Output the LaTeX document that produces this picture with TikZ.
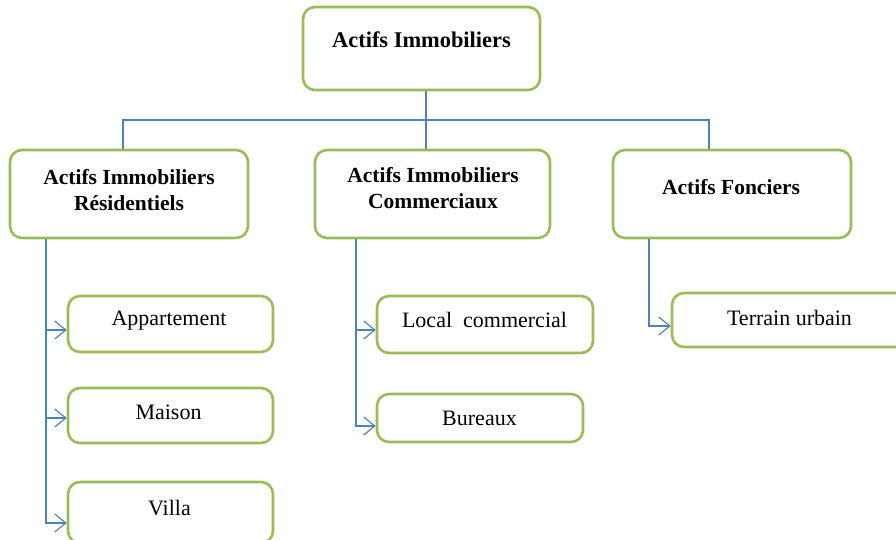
\documentclass[tikz,border=0pt]{standalone}
\usepackage{fontspec}
\setmainfont{Liberation Serif}
\usetikzlibrary{arrows.meta}
\definecolor{boxgreen}{HTML}{9BBB59}
\definecolor{linkblue}{HTML}{4F81BD}
\tikzset{
  gbox/.style={draw=boxgreen, line width=2.6pt, rounded corners=12pt, fill=white, inner sep=0pt},
  hdr/.style={font=\bfseries\fontsize{21.5}{26}\selectfont, align=center, inner sep=0pt},
  leaf/.style={font=\fontsize{22}{26}\selectfont, inner sep=0pt},
  conn/.style={draw=linkblue, line width=1.2pt},
  arr/.style={conn, -{Straight Barb[length=11pt,width=18pt,line width=1.2pt]}}
}
\begin{document}
\begin{tikzpicture}[x=1pt,y=-1pt]
\useasboundingbox (0,0) rectangle (896,539);
% boxes (centres from the reference)
\node[gbox, minimum width=237pt, minimum height=83pt] (top) at (421.5,48.5) {};
\node[gbox, minimum width=238pt, minimum height=88pt] (res) at (129,194) {};
\node[gbox, minimum width=235pt, minimum height=88pt] (comm) at (432.5,194) {};
\node[gbox, minimum width=238pt, minimum height=88pt] (fonc) at (732,194) {};
\node[gbox, minimum width=205pt, minimum height=56pt] (app) at (170.5,324) {};
\node[gbox, minimum width=205pt, minimum height=55pt] (mai) at (170.5,415.5) {};
\node[gbox, minimum width=205pt, minimum height=61pt] (vil) at (170.5,512.5) {};
\node[gbox, minimum width=216pt, minimum height=57pt] (loc) at (485,324.5) {};
\node[gbox, minimum width=206pt, minimum height=48pt] (bur) at (480,418) {};
\node[gbox, minimum width=240pt, minimum height=54pt] (ter) at (792,320) {};
% texts
\node[hdr, font=\bfseries\fontsize{22.4}{26}\selectfont] (toptxt) at (421.5,40) {Actifs Immobiliers};
\node[hdr] (restxt) at (129,190) {Actifs Immobiliers\\Résidentiels};
\node[hdr] (commtxt) at (433,188.5) {Actifs Immobiliers\\Commerciaux};
\node[hdr] (fonctxt) at (731,187) {Actifs Fonciers};
\node[leaf] (apptxt) at (169,321) {Appartement};
\node[leaf] (maitxt) at (168.5,412) {Maison};
\node[leaf] (viltxt) at (169.5,508) {Villa};
\node[leaf] (loctxt) at (484.5,320) {Local\ \ commercial};
\node[leaf] (burtxt) at (479.5,418) {Bureaux};
\node[leaf] (tertxt) at (789.5,318) {Terrain urbain};
% top-level connectors
\coordinate (busL) at (123,120);
\coordinate (busR) at (709,120);
\draw[conn] ([xshift=4.5pt]top.south) -- ([xshift=-6.5pt]comm.north);
\draw[conn] (res.north -| busL) -- (busL) -- (busR) -- (fonc.north -| busR);
% branch trunks
\coordinate (rt) at (46,0);
\coordinate (ct) at (356,0);
\coordinate (ft) at (649,0);
\draw[arr] (res.south -| rt) |- ([yshift=-6pt]app.west);
\draw[arr] (res.south -| rt) |- ([yshift=-2.5pt]mai.west);
\draw[arr] (res.south -| rt) |- ([yshift=-10.5pt]vil.west);
\draw[arr] (comm.south -| ct) |- ([yshift=-5.5pt]loc.west);
\draw[arr] (comm.south -| ct) |- ([yshift=-8pt]bur.west);
\draw[arr] (fonc.south -| ft) |- ([yshift=-6pt]ter.west);
\end{tikzpicture}
\end{document}
